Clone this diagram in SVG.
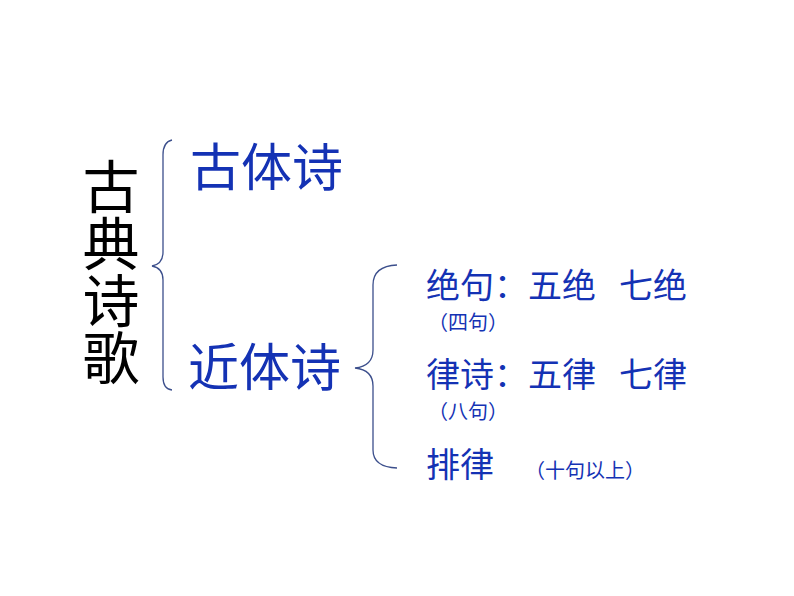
<svg xmlns="http://www.w3.org/2000/svg" width="794" height="596" viewBox="0 0 794 596">
  <style>
    text { font-family: "Noto Sans CJK SC", "Noto Sans", sans-serif; }
    .title { font-size: 57px; fill: #000000; writing-mode: vertical-rl; }
    .big { font-size: 51px; fill: #1432b4; }
    .mid { font-size: 34px; fill: #1432b4; }
    .small { font-size: 20px; fill: #1432b4; }
    .brace { fill: none; stroke: #3c4f8c; stroke-width: 1.3; }
  </style>
  <rect width="794" height="596" fill="#ffffff"/>
  <g id="root">
    <text class="title" x="111" y="158">古典诗歌</text>
  </g>
  <g id="connectors">
    <path class="brace" d="M172,140 Q163,142 163,155 L163,252 Q163,264 152,266 Q163,268 163,280 L163,377 Q163,389 172,390"/>
    <path class="brace" d="M397,265 Q373,266 373,285 L373,350 Q373,366 355,368 Q373,370 373,386 L373,450 Q373,467 397,468"/>
  </g>
  <g id="gutishi">
    <text class="big" x="190" y="186">古体诗</text>
  </g>
  <g id="jintishi">
    <text class="big" x="188" y="386">近体诗</text>
  </g>
  <g id="jueju">
    <text class="mid" x="426" y="298">绝句：五绝</text>
    <text class="mid" x="619" y="298">七绝</text>
    <text class="small" x="428" y="330">（四句）</text>
  </g>
  <g id="lvshi">
    <text class="mid" x="426" y="387">律诗：五律</text>
    <text class="mid" x="619" y="387">七律</text>
    <text class="small" x="428" y="419">（八句）</text>
  </g>
  <g id="pailv">
    <text class="mid" x="426" y="477">排律</text>
    <text class="small" x="525" y="478">（十句以上）</text>
  </g>
</svg>
